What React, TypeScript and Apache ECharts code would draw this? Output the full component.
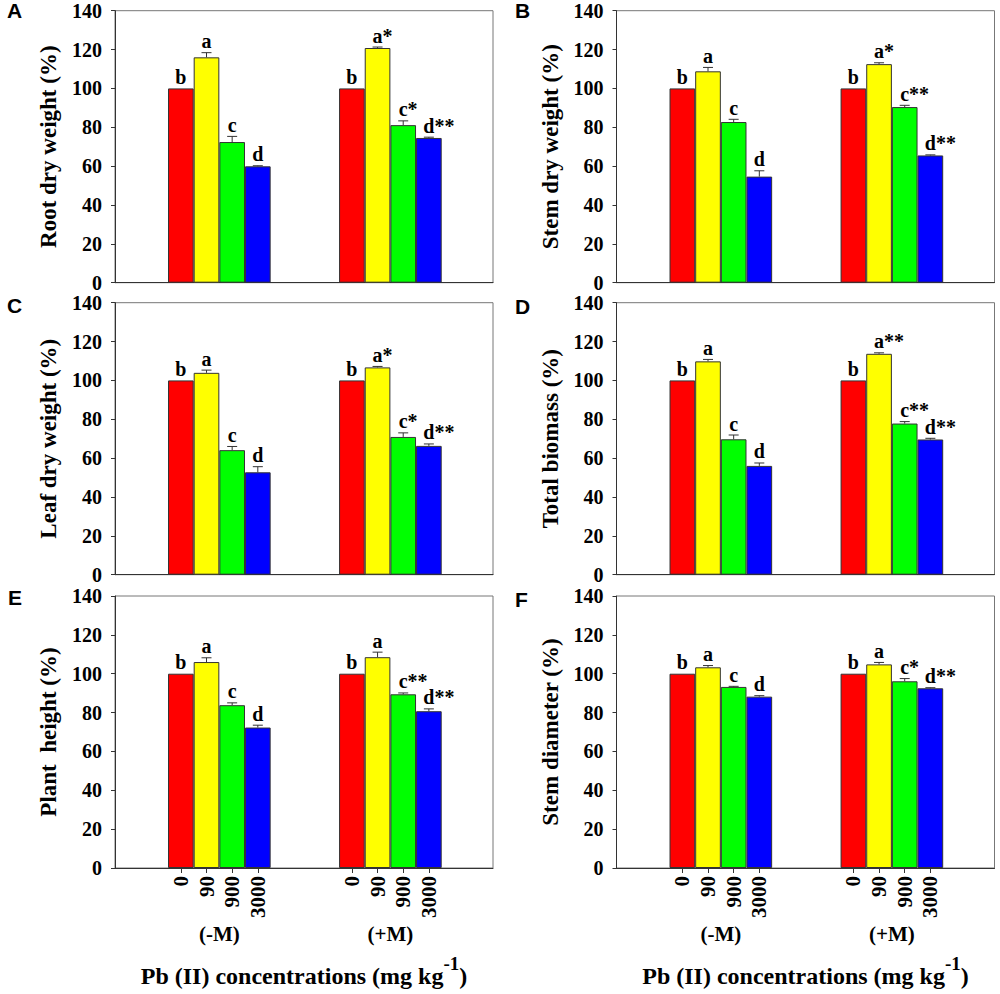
import React, { useEffect, useRef } from "react";
import * as echarts from "echarts";

// ---------- data ----------
const groups = ["(-M)", "(+M)"];
const concentrations = ["0", "90", "900", "3000"];
const barColors = ["#ff0000", "#ffff00", "#00ff00", "#0000ff"];
const panelTags = ["A", "B", "C", "D", "E", "F"];
const yTitles = [
  "Root dry weight (%)",
  "Stem dry weight (%)",
  "Leaf dry weight (%)",
  "Total biomass (%)",
  "Plant  height (%)",
  "Stem diameter (%)",
];

// each: [ -M (0, 90, 900, 3000), +M (0, 90, 900, 3000) ]
const rootMeans = [[100, 116.0, 72.4, 59.9], [100, 120.8, 81.1, 74.5]];
const rootErrors = [[0, 2.4, 2.9, 0.3], [0, 0.5, 2.2, 0.4]];
const rootLetters = [["b", "a", "c", "d"], ["b", "a*", "c*", "d**"]];

const stemMeans = [[100, 108.8, 82.7, 54.6], [100, 112.5, 90.4, 65.5]];
const stemErrors = [[0, 2.0, 1.4, 3.0], [0, 0.7, 0.9, 0.3]];
const stemLetters = [["b", "a", "c", "d"], ["b", "a*", "c**", "d**"]];

const leafMeans = [[100, 103.9, 64.1, 52.7], [100, 106.7, 70.9, 66.3]];
const leafErrors = [[0, 1.4, 1.9, 2.9], [0, 0.5, 2.1, 1.0]];
const leafLetters = [["b", "a", "c", "d"], ["b", "a*", "c*", "d**"]];

const biomassMeans = [[100, 109.8, 69.7, 56.0], [100, 113.7, 77.8, 69.6]];
const biomassErrors = [[0, 1.0, 2.2, 1.5], [0, 0.5, 1.0, 0.6]];
const biomassLetters = [["b", "a", "c", "d"], ["b", "a**", "c**", "d**"]];

const heightMeans = [[100, 106.0, 83.8, 72.3], [100, 108.5, 89.4, 80.7]];
const heightErrors = [[0, 2.2, 1.2, 1.2], [0, 2.6, 0.7, 1.2]];
const heightLetters = [["b", "a", "c", "d"], ["b", "a", "c**", "d**"]];

const diameterMeans = [[100, 103.3, 93.2, 88.2], [100, 104.8, 96.1, 92.5]];
const diameterErrors = [[0, 0.9, 0.3, 0.5], [0, 1.0, 1.4, 0.3]];
const diameterLetters = [["b", "a", "c", "d"], ["b", "a", "c*", "d**"]];

const panels = [
  { means: rootMeans, errors: rootErrors, letters: rootLetters },
  { means: stemMeans, errors: stemErrors, letters: stemLetters },
  { means: leafMeans, errors: leafErrors, letters: leafLetters },
  { means: biomassMeans, errors: biomassErrors, letters: biomassLetters },
  { means: heightMeans, errors: heightErrors, letters: heightLetters },
  { means: diameterMeans, errors: diameterErrors, letters: diameterLetters },
];

// ---------- layout ----------
const SERIF = '"Liberation Serif", "Times New Roman", serif';
const SANS = '"Liberation Sans", Arial, sans-serif';
const COL_LEFT = [115, 616.5];
const ROW_TOP = [10.7, 302.7, 596];
const PLOT_W = 378;
const PLOT_H = 272;
const X_MIN = 0.39;
const X_MAX = 2.6;
const BAR_FRAC = 0.15;
const BAR_PX = (BAR_FRAC * PLOT_W) / (X_MAX - X_MIN);
const TAG_POS = [
  [7, 10],
  [515, 10],
  [7, 305.5],
  [515, 306.5],
  [8, 597.5],
  [515, 599],
];
const LETTER_HALF: Record<string, number> = { a: 5, b: 5.6, c: 4.4, d: 5.6 };

const barPositions: number[] = [];
groups.forEach((_, gi) =>
  concentrations.forEach((__, ci) => barPositions.push(gi + 1 + (ci - 1.5) * BAR_FRAC))
);

function concFormatter(v: number) {
  let best = 0;
  let bd = Infinity;
  barPositions.forEach((p, i) => {
    const d = Math.abs(p - v);
    if (d < bd) {
      bd = d;
      best = i;
    }
  });
  return concentrations[best % concentrations.length];
}

function buildOption() {
  const grid: any[] = [];
  const xAxis: any[] = [];
  const yAxis: any[] = [];
  const series: any[] = [];
  const graphic: any[] = [];

  panels.forEach((pn, p) => {
    const col = p % 2;
    const row = Math.floor(p / 2);
    const bottomRow = row === 2;
    grid.push({
      left: COL_LEFT[col],
      top: ROW_TOP[row],
      width: PLOT_W,
      height: PLOT_H,
      show: true,
      borderColor: "#777",
      borderWidth: 1,
      backgroundColor: "transparent",
    });
    const xi = xAxis.length;
    xAxis.push({
      type: "value",
      gridIndex: p,
      min: X_MIN,
      max: X_MAX,
      position: "bottom",
      splitLine: { show: false },
      axisLine: { show: true, onZero: false, lineStyle: { color: "#333", width: 1 } },
      axisTick: bottomRow
        ? { show: true, inside: false, length: 5, customValues: barPositions, lineStyle: { color: "#333" } }
        : { show: false },
      axisLabel: bottomRow
        ? {
            show: true,
            customValues: barPositions,
            rotate: 90,
            margin: 8,
            formatter: (v: number) => concFormatter(v),
            color: "#000",
            fontFamily: SERIF,
            fontWeight: "bold",
            fontSize: 21,
          }
        : { show: false },
    });
    if (bottomRow) {
      xAxis.push({
        type: "value",
        gridIndex: p,
        min: X_MIN,
        max: X_MAX,
        position: "bottom",
        splitLine: { show: false },
        axisLine: { show: false },
        axisTick: { show: false },
        axisLabel: {
          show: true,
          customValues: groups.map((_, gi) => gi + 1),
          formatter: (v: number) => groups[Math.round(v) - 1],
          margin: 55,
          color: "#000",
          fontFamily: SERIF,
          fontWeight: "bold",
          fontSize: 21,
        },
        name: "{m|Pb (II) concentrations (mg kg}{s|-1}{m|)}",
        nameLocation: "middle",
        nameGap: 86,
        nameTextStyle: {
          rich: {
            m: {
              fontFamily: SERIF,
              fontWeight: "bold",
              fontSize: 24,
              lineHeight: 34,
              color: "#000",
              verticalAlign: "bottom",
            },
            s: {
              fontFamily: SERIF,
              fontWeight: "bold",
              fontSize: 19,
              lineHeight: 19,
              color: "#000",
              verticalAlign: "top",
            },
          },
        },
      });
    }
    yAxis.push({
      type: "value",
      gridIndex: p,
      min: 0,
      max: 140,
      interval: 20,
      name: yTitles[p],
      nameLocation: "middle",
      nameGap: 55,
      nameTextStyle: { fontFamily: SERIF, fontWeight: "bold", fontSize: 23, color: "#000" },
      axisLine: { show: true, onZero: false, lineStyle: { color: "#333", width: 1 } },
      axisTick: { show: true, inside: false, length: 4, lineStyle: { color: "#333" } },
      splitLine: { show: false },
      axisLabel: { margin: 13, color: "#000", fontFamily: SERIF, fontWeight: "bold", fontSize: 20 },
    });

    concentrations.forEach((c, ci) => {
      series.push({
        type: "bar",
        name: c,
        xAxisIndex: xi,
        yAxisIndex: p,
        barWidth: BAR_PX,
        barGap: "0%",
        silent: true,
        data: groups.map((_, gi) => [gi + 1, pn.means[gi][ci]]),
        itemStyle: { color: barColors[ci], borderColor: "#333", borderWidth: 1 },
      });
    });

    const errData: number[][] = [];
    const labels: string[] = [];
    groups.forEach((_, gi) =>
      concentrations.forEach((__, ci) => {
        errData.push([gi + 1 + (ci - 1.5) * BAR_FRAC, pn.means[gi][ci], pn.errors[gi][ci]]);
        labels.push(pn.letters[gi][ci]);
      })
    );
    series.push({
      type: "custom",
      xAxisIndex: xi,
      yAxisIndex: p,
      silent: true,
      z: 5,
      data: errData,
      renderItem: (params: any, api: any) => {
        const x = api.value(0);
        const m = api.value(1);
        const e = api.value(2);
        const base = api.coord([x, m]);
        const top = api.coord([x, m + e]);
        const children: any[] = [];
        if (e > 0) {
          children.push({
            type: "line",
            shape: { x1: base[0], y1: base[1], x2: top[0], y2: top[1] },
            style: { stroke: "#333", lineWidth: 1 },
          });
          children.push({
            type: "line",
            shape: { x1: top[0] - 5, y1: top[1], x2: top[0] + 5, y2: top[1] },
            style: { stroke: "#333", lineWidth: 1 },
          });
        }
        const lab = labels[params.dataIndex];
        const letter = lab.charAt(0);
        const stars = lab.slice(1);
        const ty = top[1] - 1.5;
        children.push({
          type: "text",
          style: {
            text: letter,
            x: top[0],
            y: ty,
            fill: "#000",
            fontFamily: SERIF,
            fontWeight: "bold",
            fontSize: 20,
            align: "center",
            verticalAlign: "bottom",
            textAlign: "center",
            textVerticalAlign: "bottom",
          },
        });
        if (stars) {
          children.push({
            type: "text",
            style: {
              text: stars,
              x: top[0] + (LETTER_HALF[letter] || 5),
              y: ty,
              fill: "#000",
              fontFamily: SERIF,
              fontWeight: "bold",
              fontSize: 20,
              align: "left",
              verticalAlign: "bottom",
              textAlign: "left",
              textVerticalAlign: "bottom",
            },
          });
        }
        return { type: "group", children };
      },
    });

    graphic.push({
      type: "text",
      x: TAG_POS[p][0],
      y: TAG_POS[p][1],
      style: {
        text: panelTags[p],
        fill: "#000",
        fontFamily: SANS,
        fontWeight: "bold",
        fontSize: 21,
        lineHeight: 17,
        align: "left",
        verticalAlign: "middle",
        textAlign: "left",
        textVerticalAlign: "middle",
      },
    });
  });

  return {
    animation: false,
    backgroundColor: "#fff",
    grid,
    xAxis,
    yAxis,
    series,
    graphic,
  };
}

export default function App() {
  const ref = useRef<HTMLDivElement>(null);
  useEffect(() => {
    if (!ref.current) return;
    const chart = echarts.init(ref.current, undefined, { renderer: "svg" });
    chart.setOption(buildOption() as any);
    return () => chart.dispose();
  }, []);
  return (
    <div
      ref={ref}
      style={{ position: "absolute", left: 0, top: 0, width: 1000, height: 994 }}
    />
  );
}
